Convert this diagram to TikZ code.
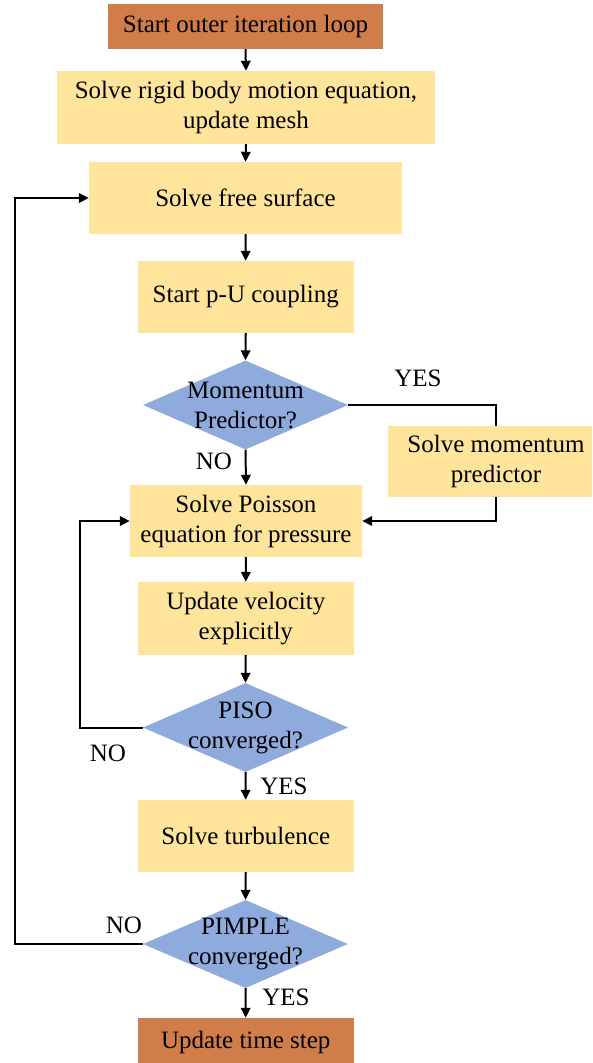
\documentclass[tikz,border=0pt]{standalone}
\usepackage{fontspec}
\setmainfont{Liberation Serif}
\usetikzlibrary{shapes.geometric,arrows.meta}
\definecolor{boxyellow}{HTML}{FFE49B}
\definecolor{boxorange}{HTML}{D07D4A}
\definecolor{diablue}{HTML}{8FAADC}
\tikzset{
  txtfont/.style={font=\fontsize{25pt}{30pt}\selectfont, align=center, text=black},
  procbox/.style={txtfont, fill=boxyellow, inner sep=0pt},
  termbox/.style={txtfont, fill=boxorange, inner sep=0pt},
  diabox/.style={shape=diamond, fill=diablue, inner sep=0pt, minimum width=205pt, minimum height=89pt},
  diatext/.style={txtfont, inner sep=0pt},
  conn/.style={line width=2pt, black},
  arr/.style={conn, -{Triangle[length=10pt,width=9.5pt]}},
  lbl/.style={txtfont, inner sep=0pt},
}
\begin{document}
\begin{tikzpicture}[x=1pt,y=-1pt]
\useasboundingbox (0,0) rectangle (592,1063);
\clip (0,0) rectangle (592,1063);
\fill[white] (0,0) rectangle (592,1063);

\node[termbox, minimum width=275pt, minimum height=45pt] (start) at (245.5,26.5) {Start outer iteration loop};
\node[procbox, minimum width=378pt, minimum height=73pt] (rigid) at (246,107.5) {Solve rigid body motion equation,\\update mesh};
\node[procbox, minimum width=313pt, minimum height=72pt] (free) at (245.5,198) {Solve free surface};
\node[procbox, minimum width=216.5pt, minimum height=72pt] (pu) at (245.75,297) {Start p-U coupling};
\node[diabox] (mom) at (245.5,405) {};
\node[diatext] (momT) at (245.5,405) {Momentum\\Predictor?};
\node[procbox, minimum width=216pt, minimum height=71pt] (mompred) at (496,461.5) {Solve momentum\\predictor};
\node[procbox, minimum width=232pt, minimum height=72pt] (poisson) at (246,521) {Solve Poisson\\equation for pressure};
\node[procbox, minimum width=216.5pt, minimum height=73pt] (vel) at (245.75,618.5) {Update velocity\\explicitly};
\node[diabox] (piso) at (245.5,727.5) {};
\node[diatext] (pisoT) at (245.5,727.5) {PISO\\converged?};
\node[procbox, minimum width=216.5pt, minimum height=72pt] (turb) at (245.75,836) {Solve turbulence};
\node[diabox, minimum height=88pt] (pimple) at (245.5,944) {};
\node[diatext] (pimpleT) at (245.5,944) {PIMPLE\\converged?};
\node[termbox, minimum width=216.5pt, minimum height=48pt] (time) at (245.75,1042) {Update time step};

\coordinate (pisoloop) at (80,727.5);
\coordinate (pimpleloop) at (15,944);

\draw[arr] (start.south) -- (rigid.north);
\draw[arr] (rigid.south) -- (free.north);
\draw[arr] (free.south) -- (pu.north);
\draw[arr] (pu.south) -- (mom.north);
\draw[arr] (mom.south) -- (poisson.north);
\draw[conn] (mom.east) -| (mompred.north);
\draw[arr] (mompred.south) |- (poisson.east);
\draw[arr] (poisson.south) -- (vel.north);
\draw[arr] (vel.south) -- (piso.north);
\draw[arr] (piso.west) -- (pisoloop) |- (poisson.west);
\draw[arr] (piso.south) -- (turb.north);
\draw[arr] (turb.south) -- (pimple.north);
\draw[arr] (pimple.west) -- (pimpleloop) |- (free.west);
\draw[arr] (pimple.south) -- (time.north);

\node[lbl] (yes1) at (418,378) {YES};
\node[lbl] (no1) at (214,461) {NO};
\node[lbl] (no2) at (108,753) {NO};
\node[lbl] (yes2) at (284,786) {YES};
\node[lbl] (no3) at (124,925) {NO};
\node[lbl] (yes3) at (286,997) {YES};
\end{tikzpicture}
\end{document}
